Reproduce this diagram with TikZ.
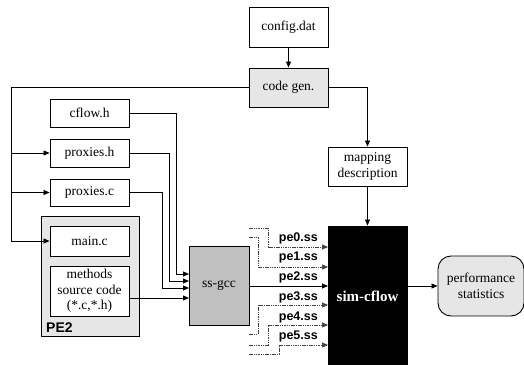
\documentclass[tikz,border=0pt]{standalone}
\usepackage{fontspec}
\setmainfont{Liberation Serif}
\setsansfont{Liberation Sans}
\usetikzlibrary{arrows.meta}
\definecolor{lightfill}{HTML}{E6E6E6}
\definecolor{midfill}{HTML}{C0C0C0}
\begin{document}
\begin{tikzpicture}[x=1pt,y=-1pt,
  box/.style={draw=black,line width=0.9pt,fill=white,inner sep=0pt,align=center,
    font=\fontsize{13.5}{15.5}\selectfont},
  arr/.style={line width=0.8pt,-{Triangle[length=6pt,width=5pt]}},
  ln/.style={line width=0.8pt},
  dl/.style={line width=0.7pt,draw=black!75,dash pattern=on 1.5pt off 0.8pt,-{Triangle[length=6pt,width=5pt]}},
  lbl/.style={font=\sffamily\bfseries\fontsize{12.5}{14}\selectfont,anchor=east,inner sep=0pt}]
\useasboundingbox (0,0) rectangle (524,364);
% nodes
\node[box,minimum width=79pt,minimum height=40pt] (config) at (288.5,27) {config.dat};
\node[box,fill=lightfill,minimum width=79pt,minimum height=39pt] (codegen) at (288.5,87.5) {code gen.};
\node[box,minimum width=79pt,minimum height=39pt] (mapping) at (367.5,166.5) {mapping\\description};
\node[box,minimum width=79pt,minimum height=28pt] (cflow) at (89.5,113) {cflow.h};
\node[box,minimum width=79pt,minimum height=28pt] (proxh) at (89.5,153) {proxies.h};
\node[box,minimum width=79pt,minimum height=27pt] (proxc) at (89.5,192.5) {proxies.c};
\node[box,fill=lightfill,minimum width=98pt,minimum height=120pt] (pe2) at (90,276) {};
\node[font=\sffamily\bfseries\fontsize{14}{16}\selectfont,anchor=south west,inner sep=0pt] (pe2lbl) at (46,333) {PE2};
\node[box,minimum width=79pt,minimum height=30pt] (mainc) at (89.5,241) {main.c};
\node[box,minimum width=79pt,minimum height=50pt] (methods) at (89.5,291) {methods\\source code\\(*.c,*.h)};
\node[box,fill=midfill,minimum width=60pt,minimum height=79pt] (ssgcc) at (219,285.5) {ss-gcc};
\node[draw=black,fill=black,line width=0.9pt,minimum width=79pt,minimum height=140pt,inner sep=0pt,
  text=white,font=\bfseries\fontsize{15}{17}\selectfont] (sim) at (367.5,296) {sim-cflow};
\node[box,fill=lightfill,rounded corners=13pt,minimum width=86pt,minimum height=60pt] (perf) at (481,286) {performance\\statistics};
% config -> codegen -> mapping -> sim
\draw[arr] (config) -- (codegen);
\draw[arr] (codegen.east) -| (mapping.north);
\draw[arr] (mapping) -- (sim.north -| mapping.south);
% left bus
\coordinate (busTop) at (11,87.5);
\coordinate (busH) at (11,153);
\coordinate (busC) at (11,192.5);
\coordinate (busM) at (11,241);
\draw[ln] (codegen.west) -- (busTop) -- (busM);
\draw[arr] (busM) -- (mainc.west);
\draw[arr] (busH) -- (proxh.west);
\draw[arr] (busC) -- (proxc.west);
% inputs to ss-gcc
\coordinate (c1) at (176,113);
\coordinate (c1b) at (176,274);
\coordinate (g1) at (189,274);
\coordinate (c2) at (169,153);
\coordinate (c2b) at (169,281);
\coordinate (g2) at (189,281);
\coordinate (c3) at (162,192.5);
\coordinate (c3b) at (162,288);
\coordinate (g3) at (189,288);
\coordinate (m4) at (129,298);
\coordinate (g4) at (189,298);
\draw[arr] (cflow.east) -- (c1) -- (c1b) -- (g1);
\draw[arr] (proxh.east) -- (c2) -- (c2b) -- (g2);
\draw[arr] (proxc.east) -- (c3) -- (c3b) -- (g3);
\draw[arr] (m4) -- (g4);
% outputs to sim-cflow
\coordinate (s0) at (249,228); \coordinate (k0) at (268,228); \coordinate (j0) at (268,247); \coordinate (t0) at (328,247);
\coordinate (s1) at (249,237); \coordinate (k1) at (258,237); \coordinate (j1) at (258,267); \coordinate (t1) at (328,267);
\coordinate (t2) at (328,286);
\coordinate (s3) at (249,334); \coordinate (k3) at (258,334); \coordinate (j3) at (258,305); \coordinate (t3) at (328,305);
\coordinate (s4) at (249,345); \coordinate (k4) at (268,345); \coordinate (j4) at (268,325); \coordinate (t4) at (328,325);
\coordinate (s5) at (249,354); \coordinate (k5) at (279,354); \coordinate (j5) at (279,345); \coordinate (t5) at (328,345);
\draw[dl] (s0) -- (k0) -- (j0) -- (t0);
\draw[dl] (s1) -- (k1) -- (j1) -- (t1);
\draw[arr] (ssgcc.east |- t2) -- (t2);
\draw[dl] (s3) -- (k3) -- (j3) -- (t3);
\draw[dl] (s4) -- (k4) -- (j4) -- (t4);
\draw[dl] (s5) -- (k5) -- (j5) -- (t5);
\node[lbl] (l0) at (318,238) {pe0.ss};
\node[lbl] (l1) at (318,257) {pe1.ss};
\node[lbl] (l2) at (318,277) {pe2.ss};
\node[lbl] (l3) at (318,297) {pe3.ss};
\node[lbl] (l4) at (318,317) {pe4.ss};
\node[lbl] (l5) at (318,336) {pe5.ss};
% sim -> perf
\draw[arr] (sim.east |- perf.west) -- (perf.west);
\end{tikzpicture}
\end{document}
